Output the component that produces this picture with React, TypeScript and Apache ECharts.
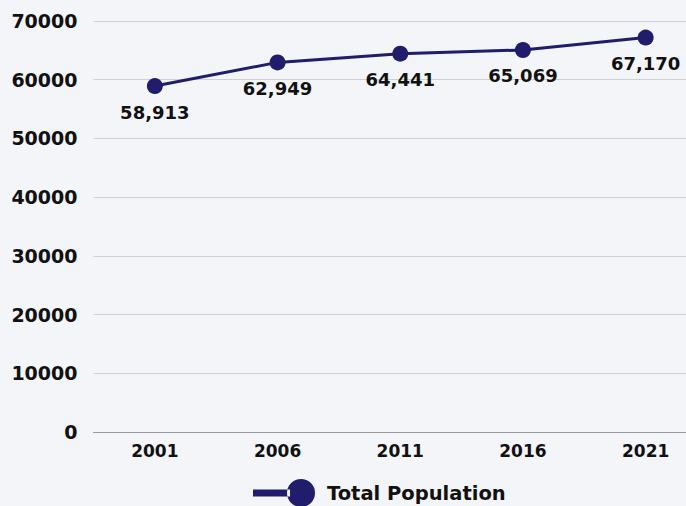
import React, { useEffect, useRef } from "react";
import * as echarts from "echarts";

const years = ["2001", "2006", "2011", "2016", "2021"];
const population = [58913, 62949, 64441, 65069, 67170];
const seriesName = "Total Population";

const NAVY = "#211c6c";
const FONT = "'DejaVu Sans', sans-serif";

export default function App() {
  const ref = useRef<HTMLDivElement>(null);
  useEffect(() => {
    if (!ref.current) return;
    const chart = echarts.init(ref.current, undefined, { renderer: "svg" });
    chart.setOption({
      animation: false,
      backgroundColor: "#f4f5f9",
      grid: { left: 93.5, right: 0, top: 21, bottom: 74, containLabel: false },
      legend: {
        left: 253,
        top: 479,
        padding: 0,
        itemWidth: 62,
        itemHeight: 28,
        icon: "path://M0 10.5 L37 10.5 L37 17.5 L0 17.5 Z M34 14 A14 14 0 1 0 62 14 A14 14 0 1 0 34 14 Z",
        textStyle: { fontFamily: FONT, fontWeight: "bold", fontSize: 19.5, color: "#111", padding: [0, 0, 0, 7] },
        data: [seriesName],
      },
      xAxis: {
        type: "category",
        data: years,
        boundaryGap: true,
        axisLine: { show: true, lineStyle: { color: "#9a9a9f", width: 1 } },
        axisTick: { show: false },
        axisLabel: { fontFamily: FONT, fontWeight: "bold", fontSize: 17, color: "#111", margin: 10 },
      },
      yAxis: {
        type: "value",
        min: 0,
        max: 70000,
        interval: 10000,
        axisLine: { show: false },
        axisTick: { show: false },
        splitLine: { lineStyle: { color: "#cfcfd4", width: 1 } },
        axisLabel: {
          fontFamily: FONT,
          fontWeight: "bold",
          fontSize: 19,
          color: "#111",
          margin: 16,
          formatter: (v: number) => String(v),
        },
      },
      series: [
        {
          name: seriesName,
          type: "line",
          data: population,
          symbol: "circle",
          symbolSize: 16,
          lineStyle: { color: NAVY, width: 3 },
          itemStyle: { color: NAVY },
          label: {
            show: true,
            position: "bottom",
            distance: 9,
            fontFamily: FONT,
            fontWeight: "bold",
            fontSize: 18,
            color: "#111",
            formatter: (p: any) => Number(p.value).toLocaleString("en-US"),
          },
        },
      ],
    });
    return () => chart.dispose();
  }, []);
  return (
    <div style={{ position: "absolute", left: 0, top: 0, width: 686, height: 506, overflow: "hidden" }}>
      <div ref={ref} style={{ width: 707, height: 506 }} />
    </div>
  );
}
